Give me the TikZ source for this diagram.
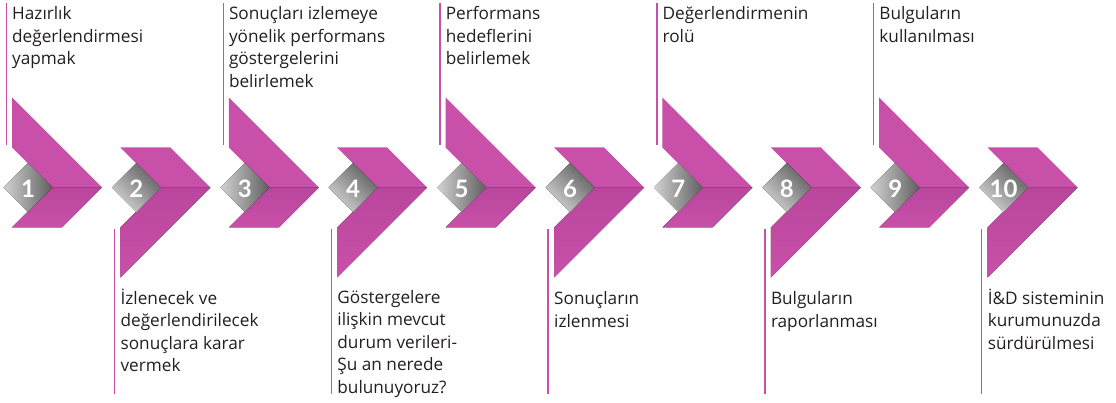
\documentclass[tikz,border=0pt]{standalone}
\usepackage{fontspec}
\setmainfont{Open Sans}
\newfontfamily\numfont{Lato}
\definecolor{pinkA}{RGB}{201,80,168}
\definecolor{pinkB}{RGB}{185,70,158}
\definecolor{txt}{RGB}{35,31,32}
\definecolor{gL}{RGB}{210,210,210}
\definecolor{gD}{RGB}{95,95,95}
\begin{document}
\begin{tikzpicture}[x=1pt,y=-1pt,
  upband/.style={fill=pinkA},
  lowband/.style={top color=pinkB,bottom color=pinkA},
  vline/.style={draw=pinkA,line width=1.4pt},
  lbl/.style={anchor=north west,inner sep=0pt,align=left,text=txt,
    font=\fontsize{17.2}{22.5}\selectfont},
  num/.style={text=white,inner sep=0pt,font=\numfont\bfseries\fontsize{24}{24}\selectfont}]
\useasboundingbox (0,0) rectangle (1116,403);
\foreach \i in {1,...,10}{
  \pgfmathsetmacro\L{12+(\i-1)*108.4}
  \ifodd\i
    \fill[upband] (\L,97.5) -- (\L+90,187.5) -- (\L+40,187.5) -- (\L,147.5) -- cycle;
    \fill[lowband] (\L+40,187.5) -- (\L+90,187.5) -- (\L+50,227.5) -- (\L,227.5) -- cycle;
    \draw[vline] (\L-5.5,3) -- (\L-5.5,145);
    \fill[top color=gD,bottom color=gL,shading angle=-90]
      (\L+16-24.5,187.5) -- (\L+16,163) -- (\L+16+24.5,187.5) -- (\L+16,212) -- cycle;
  \else
    \fill[upband] (\L+40,187.5) -- (\L+90,187.5) -- (\L+50,147.5) -- (\L,147.5) -- cycle;
    \fill[lowband] (\L+40,187.5) -- (\L+90,187.5) -- (\L,277.5) -- (\L,227.5) -- cycle;
    \draw[vline] (\L-6,229) -- (\L-6,394);
    \fill[top color=gD,bottom color=gL,shading angle=-45]
      (\L+16-24.5,187.5) -- (\L+16,163) -- (\L+16+24.5,187.5) -- (\L+16,212) -- cycle;
  \fi
  \node[num] (n\i) at (\L+16,188.5) {\i};
}
\node[lbl] (t1) at (12,6.3) {Hazırlık\\değerlendirmesi\\yapmak};
\node[lbl] (t3) at (228.8,6.3) {Sonuçları izlemeye\\yönelik performans\\göstergelerini\\belirlemek};
\node[lbl] (t5) at (445.6,6.3) {Performans\\hedeflerini\\belirlemek};
\node[lbl] (t7) at (662.4,6.3) {Değerlendirmenin\\rolü};
\node[lbl] (t9) at (879.2,6.3) {Bulguların\\kullanılması};
\node[lbl] (t2) at (120.4,288.7) {İzlenecek ve\\değerlendirilecek\\sonuçlara karar\\vermek};
\node[lbl] (t4) at (337.2,290) {Göstergelere\\ilişkin mevcut\\durum verileri-\\Şu an nerede\\bulunuyoruz?};
\node[lbl] (t6) at (554,291.5) {Sonuçların\\izlenmesi};
\node[lbl] (t8) at (770.8,291.5) {Bulguların\\raporlanması};
\node[lbl] (t10) at (987.6,288.7) {İ\&D sisteminin\\kurumunuzda\\sürdürülmesi};
\end{tikzpicture}
\end{document}
